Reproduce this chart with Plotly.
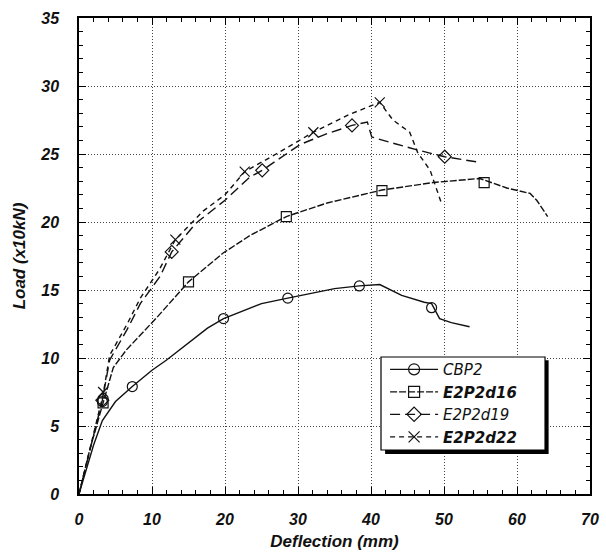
import plotly.graph_objects as go

# ---- data (deflection in mm, load in x10kN) ----
cbp2_x = [0, 1, 2, 3.2, 5, 7.3, 10, 12, 15, 17.6, 19.8, 23, 25, 28.6, 32, 35, 38.4, 41.2, 44.2, 47.3, 48.3, 49.4, 51, 53.5]
cbp2_y = [0, 1.8, 3.6, 5.4, 6.8, 7.9, 9.1, 9.85, 11.1, 12.2, 12.9, 13.6, 14.0, 14.4, 14.8, 15.1, 15.3, 15.4, 14.6, 14.1, 14.0, 12.9, 12.6, 12.3]
cbp2_mx = [3.2, 7.3, 19.8, 28.6, 38.4, 48.3]
cbp2_my = [6.8, 7.9, 12.9, 14.4, 15.3, 13.7]

d16_x = [0, 1.5, 3.3, 4.7, 6.5, 10.7, 15.0, 19.7, 23.4, 28.4, 34.0, 41.5, 48.5, 52.2, 54.9, 58.6, 61.8, 62.7, 64.2]
d16_y = [0, 3.3, 6.7, 9.3, 10.6, 13.0, 15.6, 17.7, 19.0, 20.4, 21.4, 22.35, 22.9, 23.1, 23.2, 22.5, 22.1, 21.6, 20.4]
d16_mx = [3.3, 15.0, 28.4, 41.5, 55.5]
d16_my = [6.7, 15.6, 20.4, 22.3, 22.9]

d19_x = [0, 1.5, 3.2, 4.2, 6.6, 8.4, 11.1, 12.7, 16, 20, 23.4, 25.1, 30.3, 34, 37.4, 39.5, 40.1, 43.0, 46.3, 50.1, 54.7]
d19_y = [0, 3.3, 6.9, 9.85, 12.1, 14.0, 16.0, 17.8, 19.9, 21.6, 23.3, 23.8, 25.7, 26.5, 27.1, 27.35, 26.25, 25.8, 25.3, 24.8, 24.4]
d19_mx = [3.2, 12.7, 25.1, 37.4, 50.1]
d19_my = [6.9, 17.8, 23.8, 27.1, 24.8]

d22_x = [0, 1.5, 3.3, 4.2, 6.6, 8.4, 11.0, 13.2, 17.0, 20.0, 22.7, 27.0, 32.1, 37.0, 41.2, 43.0, 45.3, 46.4, 48.1, 49.7]
d22_y = [0, 3.3, 7.3, 10.2, 12.5, 14.4, 16.5, 18.7, 20.8, 22.0, 23.7, 25.0, 26.6, 27.9, 28.8, 27.5, 26.6, 25.1, 23.8, 21.3]
d22_mx = [3.3, 13.2, 22.7, 32.1, 41.2]
d22_my = [7.5, 18.7, 23.7, 26.6, 28.8]

x_ticks = [0, 10, 20, 30, 40, 50, 60, 70]
y_ticks = [0, 5, 10, 15, 20, 25, 30, 35]

series = [
    ("<i>CBP2</i>", cbp2_x, cbp2_y, cbp2_mx, cbp2_my, "solid", "circle-open"),
    ("<b><i>E2P2d16</i></b>", d16_x, d16_y, d16_mx, d16_my, "7px,2px", "square-open"),
    ("<i>E2P2d19</i>", d19_x, d19_y, d19_mx, d19_my, "10px,5px", "diamond-open"),
    ("<b><i>E2P2d22</i></b>", d22_x, d22_y, d22_mx, d22_my, "5px,4px", "x-thin-open"),
]

INK = "#111111"
FONT = "Liberation Sans, Arial"
fig = go.Figure()
for name, x, y, mx, my, dash, sym in series:
    fig.add_trace(go.Scatter(x=x, y=y, mode="lines", showlegend=False,
                             line=dict(color=INK, width=1.4, dash=dash)))
    fig.add_trace(go.Scatter(x=mx, y=my, mode="markers", showlegend=False,
                             marker=dict(symbol=sym, size=10, color=INK,
                                         line=dict(color=INK, width=1.2))))
    # legend entry
    fig.add_trace(go.Scatter(x=[None], y=[None], mode="lines+markers", name=name,
                             line=dict(color=INK, width=1.4, dash=dash),
                             marker=dict(symbol=sym, size=11, color=INK,
                                         line=dict(color=INK, width=1.2))))

tickfont = dict(family=FONT, size=16, color="#111")
axis_common = dict(
    showline=True, linecolor="black", linewidth=1.5, mirror="ticks",
    ticks="inside", ticklen=7, tickwidth=1.2, tickcolor="black",
    showgrid=True, gridcolor="#444", griddash="1px,2px", gridwidth=1,
    zeroline=False, tickfont=tickfont, automargin=False,
)
fig.update_xaxes(range=[0, 70], tickvals=x_ticks,
                 ticktext=[f"<b><i>{v}</i></b>" for v in x_ticks],
                 minor=dict(dtick=2, ticks="inside", ticklen=4, tickcolor="black", showgrid=False),
                 title=dict(text="<b><i>Deflection (mm)</i></b>",
                            font=dict(family=FONT, size=17, color="#111"),
                            standoff=8),
                 ticklabelstandoff=10,
                 **axis_common)
fig.update_yaxes(range=[0, 35], tickvals=y_ticks,
                 ticktext=[f"<b><i>{v}</i></b>" for v in y_ticks],
                 minor=dict(dtick=1, ticks="inside", ticklen=4, tickcolor="black", showgrid=False),
                 title=dict(text="<b><i>Load (x10kN)</i></b>",
                            font=dict(family=FONT, size=17, color="#111"),
                            standoff=10),
                 ticklabelstandoff=15,
                 **axis_common)

# legend frame with drop shadow (drawn as shapes; the legend itself is transparent)
fig.add_shape(type="rect", xref="paper", yref="paper",
              x0=0.599, x1=0.919, y0=0.084, y1=0.281,
              fillcolor="black", line=dict(width=0), layer="above")
fig.add_shape(type="rect", xref="paper", yref="paper",
              x0=0.591, x1=0.912, y0=0.0924, y1=0.2878,
              fillcolor="white", line=dict(color="black", width=1.2), layer="above")

fig.update_layout(
    width=606, height=558,
    margin=dict(l=79, r=16, t=18, b=64),
    plot_bgcolor="white", paper_bgcolor="white",
    legend=dict(x=0.599, y=0.191, xanchor="left", yanchor="middle",
                bgcolor="rgba(0,0,0,0)", borderwidth=0,
                font=dict(family="DejaVu Sans", size=15, color="#111"),
                tracegroupgap=0, itemwidth=48),
)

fig.write_html("out.html")
